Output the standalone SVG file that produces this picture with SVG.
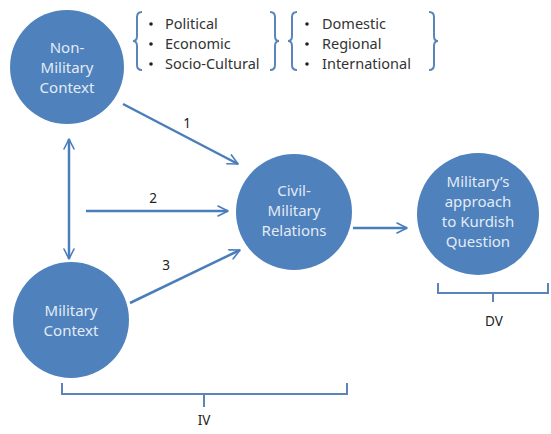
<svg xmlns="http://www.w3.org/2000/svg" width="551" height="434" viewBox="0 0 551 434">
<defs>
<marker id="ah" viewBox="0 0 10 10" refX="9" refY="5" markerWidth="5" markerHeight="5" orient="auto-start-reverse" markerUnits="strokeWidth">
<path d="M1,1 L9,5 L1,9" fill="none" stroke="#4a7ebb" stroke-width="1.3" stroke-linecap="round" stroke-linejoin="round"/>
</marker>
<style>
.node{fill:#4f81bd;}
.nt{font-family:"Noto Sans","Liberation Sans",sans-serif;font-size:15px;fill:#e3ebf5;text-anchor:middle;}
.lt{font-family:"Noto Sans","Liberation Sans",sans-serif;font-size:14.5px;fill:#333;}
.lab{font-family:"Noto Sans","Liberation Sans",sans-serif;font-size:13.5px;fill:#222;text-anchor:middle;}
.conn{stroke:#4a7ebb;stroke-width:2.5;fill:none;marker-end:url(#ah);}
.br{stroke:#5b84b8;stroke-width:2;fill:none;}
</style>
</defs>
<rect width="551" height="434" fill="#fff"/>
<g id="connectors">
<line class="conn" x1="123" y1="104" x2="238" y2="164"/>
<line class="conn" x1="86" y1="211" x2="228" y2="211"/>
<line class="conn" x1="130" y1="303" x2="240" y2="250"/>
<line class="conn" x1="69" y1="139" x2="69" y2="259" style="marker-start:url(#ah)"/>
<line class="conn" x1="353" y1="228" x2="407" y2="228"/>
<text class="lab" x="187" y="128">1</text>
<text class="lab" x="153" y="203">2</text>
<text class="lab" x="166" y="270">3</text>
</g>
<g id="non-military">
<circle class="node" cx="67" cy="67" r="57"/>
<text class="nt" x="67" y="53">Non-</text>
<text class="nt" x="67" y="73">Military</text>
<text class="nt" x="67" y="93">Context</text>
</g>
<g id="military-context">
<circle class="node" cx="71" cy="320" r="58"/>
<text class="nt" x="71" y="316">Military</text>
<text class="nt" x="71" y="336">Context</text>
</g>
<g id="civil-military">
<circle class="node" cx="294" cy="212" r="58"/>
<text class="nt" x="294" y="196">Civil-</text>
<text class="nt" x="294" y="216">Military</text>
<text class="nt" x="294" y="236">Relations</text>
</g>
<g id="approach">
<circle class="node" cx="478" cy="214" r="61"/>
<text class="nt" x="478" y="187">Military’s</text>
<text class="nt" x="478" y="207">approach</text>
<text class="nt" x="478" y="227">to Kurdish</text>
<text class="nt" x="478" y="247">Question</text>
</g>
<g id="context-list-1">
<path class="br" d="M142,12 Q137,12 137,17 L137,36 Q137,41 133,41 Q137,41 137,46 L137,65 Q137,70 142,70"/>
<path class="br" d="M270,12 Q275,12 275,17 L275,36 Q275,41 279,41 Q275,41 275,46 L275,65 Q275,70 270,70"/>
<circle cx="151" cy="24" r="1.8" fill="#222"/>
<circle cx="151" cy="44" r="1.8" fill="#222"/>
<circle cx="151" cy="64" r="1.8" fill="#222"/>
<text class="lt" x="165" y="29">Political</text>
<text class="lt" x="165" y="49">Economic</text>
<text class="lt" x="165" y="69">Socio-Cultural</text>
</g>
<g id="context-list-2">
<path class="br" d="M297,12 Q292,12 292,17 L292,36 Q292,41 288,41 Q292,41 292,46 L292,65 Q292,70 297,70"/>
<path class="br" d="M429,12 Q434,12 434,17 L434,36 Q434,41 438,41 Q434,41 434,46 L434,65 Q434,70 429,70"/>
<circle cx="307" cy="24" r="1.8" fill="#222"/>
<circle cx="307" cy="44" r="1.8" fill="#222"/>
<circle cx="307" cy="64" r="1.8" fill="#222"/>
<text class="lt" x="322" y="29">Domestic</text>
<text class="lt" x="322" y="49">Regional</text>
<text class="lt" x="322" y="69">International</text>
</g>
<g id="iv">
<path class="br" d="M62,383 L62,394 L347,394 L347,383 M204,394 L204,407"/>
<text class="lab" x="204" y="425">IV</text>
</g>
<g id="dv">
<path class="br" d="M438,283 L438,293 L548,293 L548,283 M493,293 L493,302"/>
<text class="lab" x="494" y="326">DV</text>
</g>
</svg>
